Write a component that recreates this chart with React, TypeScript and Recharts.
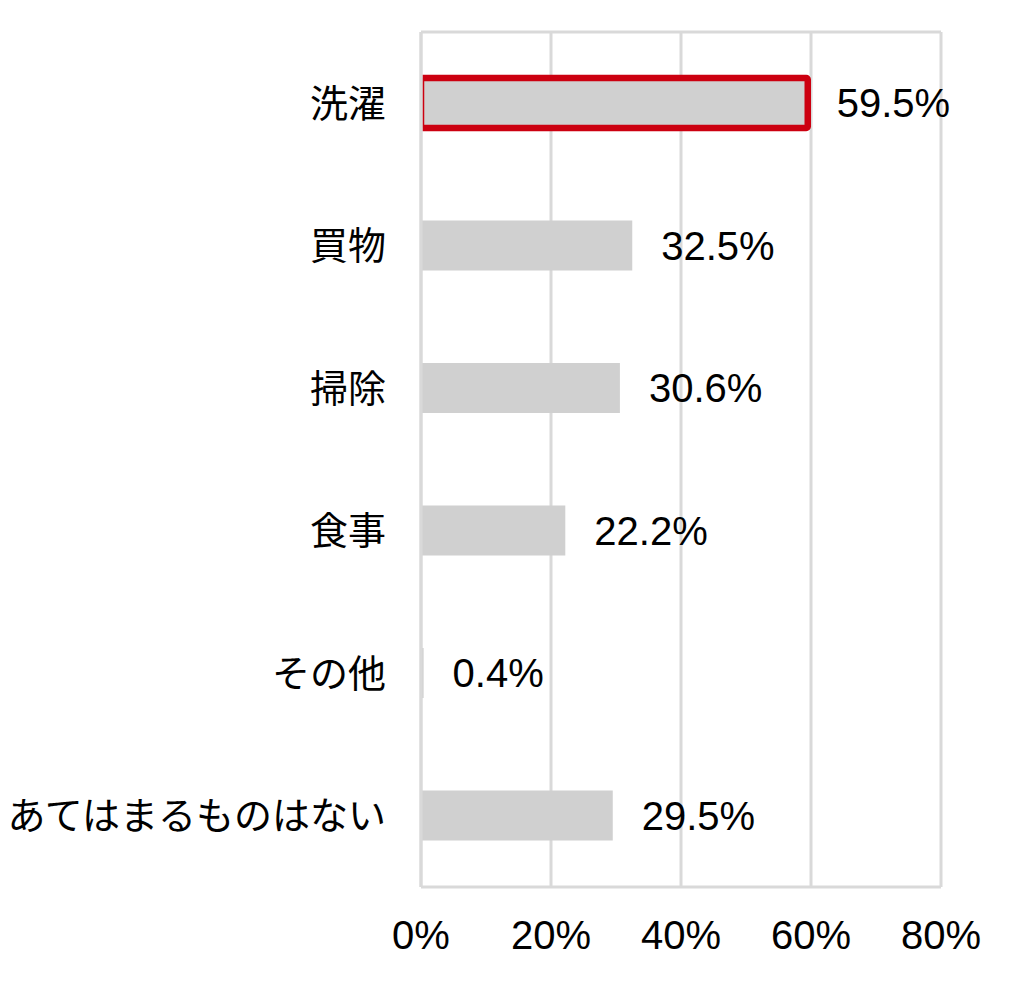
import React from "react";
import { BarChart, Bar, XAxis, YAxis, CartesianGrid, Cell, LabelList } from "recharts";

const categories = ["洗濯", "買物", "掃除", "食事", "その他", "あてはまるものはない"];
const values = [59.5, 32.5, 30.6, 22.2, 0.4, 29.5];
const xTicks = [0, 20, 40, 60, 80];
const highlighted = ["洗濯"];

const data = categories.map((name, i) => ({ name, value: values[i] }));

const GRID = "#d9d9d9";
const BAR_FILL = "#d0d0d0";
const RED = "#cc0010";
const NUM_FONT = "'Liberation Sans', Arial, sans-serif";
const CJK_FONT = "'Noto Sans CJK JP', 'Noto Sans', sans-serif";

const BarShape = (props: any) => {
  const { x, y, width, height, payload, index } = props;
  const hl = highlighted.includes(payload?.name);
  if (!hl) {
    return <rect x={x} y={y} width={Math.max(width, 0)} height={height} fill={BAR_FILL} />;
  }
  const sw = 6.5;
  const id = `clip-bar-${index}`;
  return (
    <g>
      <defs>
        <clipPath id={id}>
          <rect x={x + 1.5} y={y - sw} width={width + sw * 2} height={height + sw * 2} />
        </clipPath>
      </defs>
      <rect
        x={x}
        y={y}
        width={width}
        height={height}
        fill={BAR_FILL}
        stroke={RED}
        strokeWidth={sw}
        rx={1.5}
        clipPath={`url(#${id})`}
      />
    </g>
  );
};

export default function App() {
  return (
    <div style={{ position: "absolute", left: 0, top: 0, width: 1011, height: 987, background: "#fff" }}>
      <BarChart
        width={1011}
        height={987}
        data={data}
        layout="vertical"
        margin={{ top: 32, right: 70, bottom: 0, left: 0 }}
        barCategoryGap={0}
      >
        <CartesianGrid
          stroke={GRID}
          strokeWidth={3}
          vertical={true}
          horizontal={true}
          horizontalCoordinatesGenerator={(props: any) => [props.offset.top]}
        />
        <XAxis
          type="number"
          domain={[0, 80]}
          ticks={xTicks}
          tickFormatter={(v: number) => `${v}%`}
          height={100}
          axisLine={{ stroke: GRID, strokeWidth: 3 }}
          tickLine={false}
          tickSize={6}
          tickMargin={28}
          tick={{ fill: "#000", fontSize: 40, fontFamily: NUM_FONT }}
          interval={0}
        />
        <YAxis
          type="category"
          dataKey="name"
          width={421}
          axisLine={{ stroke: GRID, strokeWidth: 3 }}
          tickLine={false}
          tickSize={6}
          tickMargin={29}
          tick={{ fill: "#000", fontSize: 38, fontFamily: CJK_FONT }}
          interval={0}
        />
        <Bar dataKey="value" barSize={50} fill={BAR_FILL} shape={BarShape} isAnimationActive={false}>
          {data.map((d) => (
            <Cell key={d.name} fill={BAR_FILL} />
          ))}
          <LabelList
            dataKey="value"
            position="right"
            offset={29}
            formatter={(v: any) => `${Number(v).toFixed(1)}%`}
            style={{ fill: "#000", fontSize: 40, fontFamily: NUM_FONT }}
          />
        </Bar>
      </BarChart>
    </div>
  );
}
